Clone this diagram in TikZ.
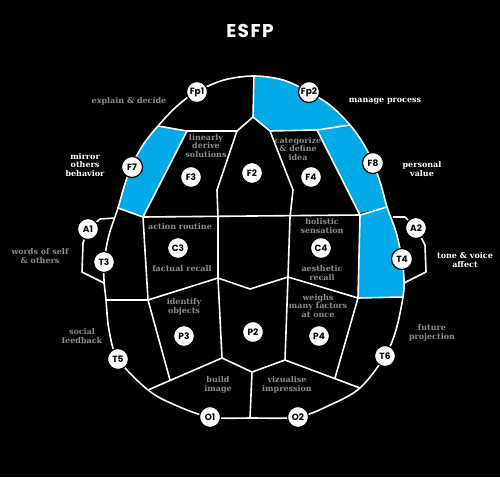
\documentclass[tikz,border=0pt]{standalone}
\usepackage{fontspec}
\setmainfont{DejaVu Serif}
\newfontfamily\popp{Poppins}
\newfontfamily\titlefont[LetterSpace=8]{Poppins}
\definecolor{cyanb}{RGB}{0,170,230}
\definecolor{lbl}{RGB}{140,140,140}
\begin{document}
\begin{tikzpicture}[x=1pt,y=-1pt,
  ln/.style={white,line width=1.6pt,line join=round},
  el/.style={circle,fill=white,draw=black,line width=1.2pt,minimum size=21pt,inner sep=0pt,font=\popp\bfseries\fontsize{9}{9}\selectfont},
  gl/.style={text=lbl,font=\bfseries\fontsize{8}{8.5}\selectfont,align=center,inner sep=0pt},
  wl/.style={gl,text=white}]
\fill[black] (0,0) rectangle (500,477);
\useasboundingbox (0,0) rectangle (500,477);
% head outline
\path[save path=\headpath] plot[smooth cycle,tension=0.55] coordinates {
 (254,76) (283,80) (309,92) (331,106) (350,125) (363,143) (373,163) (381,185)
 (387,207) (396,232) (402,259) (404,280) (403,297) (396,330) (385,356) (360,388)
 (330,405) (298,417) (252,418) (210,417) (175,405) (148,390) (118,359) (109,330)
 (106,300) (104,280) (104,262) (109,235) (118,208) (124,187) (131,167) (143,145)
 (158,126) (176,107) (196,92) (224,80)};
\begin{scope}
\clip[use path=\headpath];
\fill[cyanb] (255,50) -- (255,77) -- (253,117) -- (270,131) -- (317,130) -- (390,122) -- (390,50) -- cycle;
\fill[cyanb] (317,130) -- (390,122) -- (420,200) -- (360,213) -- cycle;
\fill[cyanb] (187,131) -- (110,118) -- (90,198) -- (143,217) -- cycle;
\fill[cyanb] (360,215) -- (420,199) -- (430,297) -- (358,298) -- cycle;
\end{scope}
% inner lines
\coordinate (top) at (254,76);
\coordinate (a) at (158,126);
\coordinate (b) at (187,131);
\coordinate (c) at (237,131);
\coordinate (d) at (253,117);
\coordinate (e) at (270,131);
\coordinate (f) at (317,130);
\coordinate (g) at (350,125);
\coordinate (h) at (118,208);
\coordinate (i) at (143,217);
\coordinate (j) at (218,217);
\coordinate (k) at (290,217);
\coordinate (l) at (360,215);
\coordinate (m) at (387,207);
\coordinate (n) at (106,300);
\coordinate (o) at (148,300);
\coordinate (p) at (218,278);
\coordinate (q) at (250,289);
\coordinate (r) at (288,277);
\coordinate (s) at (358,298);
\coordinate (t) at (403,297);
\coordinate (u) at (148,390);
\coordinate (v) at (222,358);
\coordinate (w) at (252,372);
\coordinate (x) at (285,360);
\coordinate (y) at (360,388);
\coordinate (z) at (250,418);
\coordinate (p3l) at (170,380);
\coordinate (p4r) at (335,378);
\draw[ln] (a) -- (b) -- (c);
\draw[ln] (top) -- (d) -- (c) -- (217,190) -- (j);
\draw[ln] (d) -- (e) -- (293,190) -- (k);
\draw[ln] (e) -- (f) -- (g);
\draw[ln] (b) -- (i);
\draw[ln] (f) -- (l);
\draw[ln] (h) -- (i) -- (l) -- (m);
\draw[ln] (i) -- (o);
\draw[ln] (n) -- (o) -- (p) -- (q) -- (r) -- (s) -- (t);
\draw[ln] (j) -- (p);
\draw[ln] (k) -- (r);
\draw[ln] (l) -- (s);
\draw[ln] (o) -- (p3l);
\draw[ln] (p) -- (v);
\draw[ln] (r) -- (x);
\draw[ln] (u) -- (v) -- (w) -- (x) -- (y);
\draw[ln] (w) -- (z);
\draw[ln] (s) -- (p4r);
\draw[ln,use path=\headpath];
% ear brackets
\node[el] (A1) at (88,229) {A1};
\node[el] (A2) at (416,228) {A2};
\coordinate (la) at (115,218);
\coordinate (lb) at (100,219);
\coordinate (lc) at (83,243);
\coordinate (ld) at (82,272);
\coordinate (le) at (104,283);
\coordinate (ra) at (393,217);
\coordinate (rb) at (405,217);
\coordinate (rc) at (425,245);
\coordinate (rd) at (426,272);
\coordinate (re) at (404,283);
\draw[ln] (la) -- (lb) -- (A1) -- (lc) -- (ld) -- (le);
\draw[ln] (ra) -- (rb) -- (A2) -- (rc) -- (rd) -- (re);
\node[el] at (A1) {A1};
\node[el] at (A2) {A2};
% electrodes
\node[el] (Fp1) at (197,92) {Fp1};
\node[el] (Fp2) at (309,92) {Fp2};
\node[el] (F7) at (132,167) {F7};
\node[el] (F8) at (373,163) {F8};
\node[el] (F3) at (191,177) {F3};
\node[el] (F2) at (252,173) {F2};
\node[el] (F4) at (311,177) {F4};
\node[el] (T3) at (104,262) {T3};
\node[el] (T4) at (402,259) {T4};
\node[el] (C3) at (178,248) {C3};
\node[el] (C4) at (321,248) {C4};
\node[el] (P3) at (184,336) {P3};
\node[el] (P2) at (253,332) {P2};
\node[el] (P4) at (319,336) {P4};
\node[el] (T5) at (118,359) {T5};
\node[el] (T6) at (385,356) {T6};
\node[el] (O1) at (210,417) {O1};
\node[el] (O2) at (298,417) {O2};
% labels
\node[text=white,font=\titlefont\bfseries\fontsize{18.5}{18.5}\selectfont] (title) at (250,31) {ESFP};
\node[gl] (l1) at (129,101) {explain \& decide};
\node[wl] (l2) at (85,165) {mirror\\others\\behavior};
\node[wl] (l3) at (385,101) {manage process};
\node[wl] (l4) at (422,169) {personal\\value};
\node[gl] (l5) at (40,256) {words of self\\\& others};
\node[wl] (l6) at (465,260) {tone \& voice\\affect};
\node[gl] (l7) at (82,336) {social\\feedback};
\node[gl] (l8) at (432,333) {future\\projection};
\node[gl] (l9) at (206,146) {linearly\\derive\\solutions};
\node[gl] (l10) at (298,149) {categorize\\\& define\\idea};
\node[gl] (l11) at (180,227) {action routine};
\node[gl] (l12) at (182,269) {factual recall};
\node[gl] (l13) at (322,226) {holistic\\sensation};
\node[gl] (l14) at (322,273) {aesthetic\\recall};
\node[gl] (l15) at (184,307) {identify\\objects};
\node[gl] (l16) at (318,306) {weighs\\many factors\\at once};
\node[gl] (l17) at (218,385) {build\\image};
\node[gl] (l18) at (287,385) {vizualise\\impression};
\end{tikzpicture}
\end{document}
